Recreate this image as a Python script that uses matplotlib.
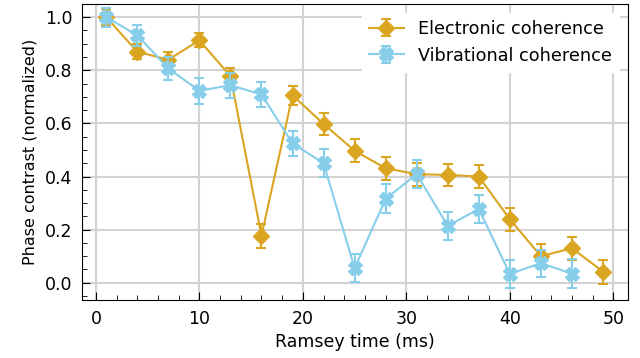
import numpy as np
import matplotlib
matplotlib.use('Agg')
import matplotlib.pyplot as plt
from matplotlib.ticker import AutoMinorLocator

# Ramsey times (ms)
t_elec = [1, 4, 7, 10, 13, 16, 19, 22, 25, 28, 31, 34, 37, 40, 43, 46, 49]
t_vib = [1, 4, 7, 10, 13, 16, 19, 22, 25, 28, 31, 34, 37, 40, 43, 46]

# normalized phase contrast
elec = [1.0, 0.87, 0.84, 0.913, 0.778, 0.177, 0.706, 0.598, 0.497, 0.431,
        0.409, 0.406, 0.40, 0.239, 0.10, 0.13, 0.042]
elec_err = [0.03, 0.028, 0.028, 0.027, 0.03, 0.045, 0.036, 0.04, 0.043, 0.043,
            0.043, 0.043, 0.044, 0.043, 0.045, 0.043, 0.045]

vib = [1.0, 0.932, 0.807, 0.723, 0.744, 0.709, 0.525, 0.45, 0.055, 0.316,
       0.409, 0.214, 0.278, 0.033, 0.074, 0.034]
vib_err = [0.035, 0.04, 0.045, 0.048, 0.047, 0.046, 0.048, 0.053, 0.052, 0.055,
           0.053, 0.053, 0.053, 0.053, 0.051, 0.054]

plt.rcParams['font.size'] = 12.5

fig, ax = plt.subplots(figsize=(6.4, 3.58), dpi=100)
fig.subplots_adjust(left=0.128, right=0.981, top=0.989, bottom=0.162)

ax.errorbar(t_elec, elec, yerr=elec_err, color='goldenrod', marker='D', ms=8.5,
            lw=1.5, elinewidth=1.5, capsize=3.5, capthick=1.5,
            label='Electronic coherence', zorder=3)
ax.errorbar(t_vib, vib, yerr=vib_err, color='skyblue', marker='X', ms=9.5,
            lw=1.5, elinewidth=1.5, capsize=3.5, capthick=1.5,
            label='Vibrational coherence', zorder=4)

ax.set_xlim(-1.35, 51.4)
ax.set_ylim(-0.065, 1.05)
ax.set_xticks([0, 10, 20, 30, 40, 50])
ax.set_yticks([0.0, 0.2, 0.4, 0.6, 0.8, 1.0])
ax.xaxis.set_minor_locator(AutoMinorLocator(5))
ax.yaxis.set_minor_locator(AutoMinorLocator(4))
ax.tick_params(which='both', direction='in', labelsize=12.5, pad=7)
ax.tick_params(which='major', length=6)
ax.tick_params(which='minor', length=3.5)
ax.grid(True, which='major', color='#d3d3d3', lw=1.5, zorder=0)
ax.set_axisbelow(True)

ax.set_xlabel('Ramsey time (ms)', fontsize=12.5, labelpad=4)
ax.set_ylabel('Phase contrast (normalized)', fontsize=11.5, labelpad=5)

leg = ax.legend(loc='upper right', framealpha=1, edgecolor='white',
                fancybox=False, fontsize=12.7)

fig.savefig('out.png', dpi=100)
